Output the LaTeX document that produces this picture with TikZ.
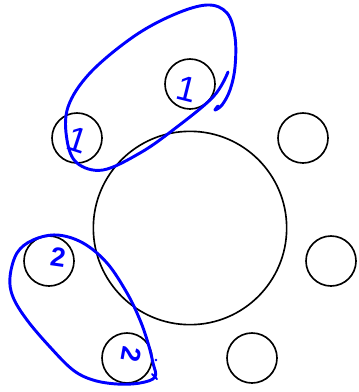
\documentclass[tikz,border=0pt]{standalone}
\usepackage{fontspec}
\usepackage{tikz}
\usetikzlibrary{positioning,calc}
\newfontfamily\handfont{Liberation Sans}
\definecolor{inkblue}{HTML}{0000FF}

\begin{document}
\begin{tikzpicture}[x=0.03cm, y=-0.03cm,
  seat/.style={draw=black, circle, line width=1.4pt, minimum size=1.5cm, inner sep=0pt},
  tablebox/.style={draw=black, circle, line width=1.4pt, minimum size=5.8cm, inner sep=0pt},
  lasso/.style={draw=inkblue, line width=2.5pt, line cap=round, line join=round},
  digit/.style={text=inkblue, font=\handfont\fontsize{30}{30}\selectfont, inner sep=0pt},
  digittwo/.style={text=inkblue, font=\handfont\bfseries\fontsize{23}{23}\selectfont, inner sep=0pt},
]
\useasboundingbox (0,0) rectangle (358,392);
% table and seats
\node[tablebox] (tbl) at (190,228) {};
\node[seat] (top) at (190,84) {};
\node[seat] (ul) at (77,138) {};
\node[seat] (ur) at (303,138) {};
\node[seat] (rt) at (331,261) {};
\node[seat] (lt) at (49,261) {};
\node[seat] (bl) at (127,358) {};
\node[seat] (br) at (252,358) {};

% group 1
\draw[lasso] plot[smooth, tension=0.6] coordinates {
  (228,72) (213,97) (173,130) (140,153) (103,170) (77,163) (67,140) (68,107)
  (90,73) (133,37) (173,15) (207,5) (227,13) (235,37) (235,67) (230,90)
  (222,105) (215,110) (218,106)};
\node[digit, rotate=-14] (m1a) at (187,89) {1};
\node[digit, rotate=-18] (m1b) at (78,140) {1};

% group 2
\draw[lasso] plot[smooth cycle, tension=0.6] coordinates {
  (57,235) (83,243) (107,263) (127,293) (140,320) (148,343) (153,363) (155,377)
  (140,383) (117,384) (93,380) (73,370) (50,347) (27,320) (13,297) (10,277)
  (17,253) (33,240)};
\draw[lasso, line width=1.8pt] (152,374) -- (157,379);
\fill[inkblue] (156,360) circle (1.3);
\node[digittwo, rotate=-8] (m2a) at (58,257) {2};
\node[digittwo, rotate=-100] (m2b) at (131,355) {2};
\end{tikzpicture}
\end{document}
